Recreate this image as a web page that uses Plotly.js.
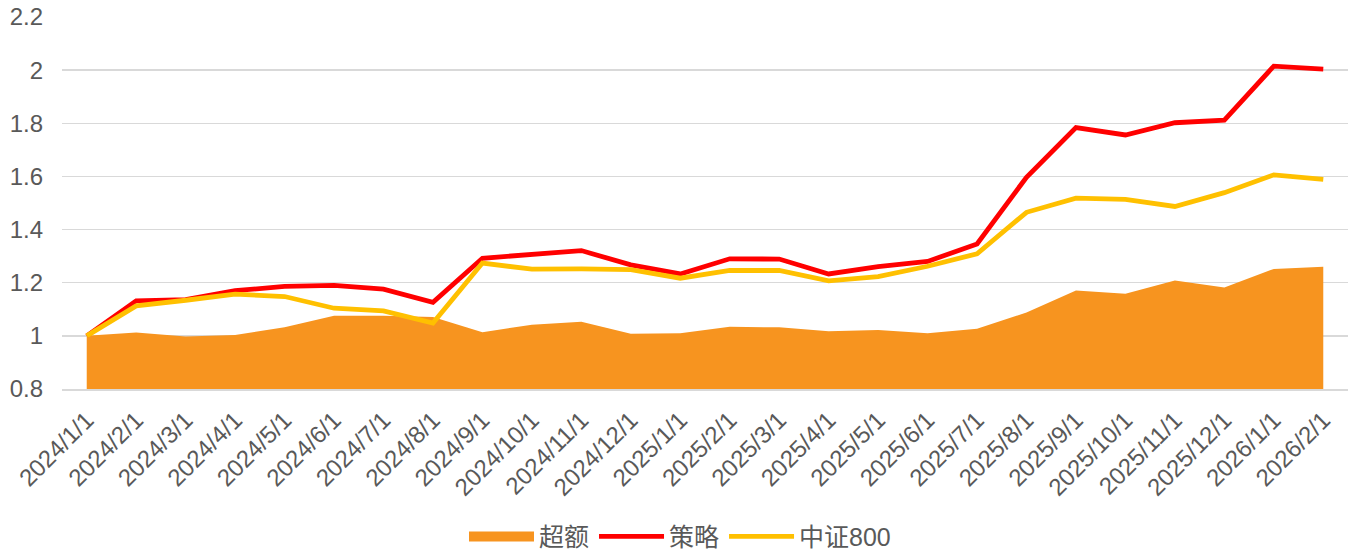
<!DOCTYPE html>
<html>
<head>
<meta charset="utf-8">
<script src="https://cdn.plot.ly/plotly-3.0.1.min.js"></script>
<style>html,body{margin:0;padding:0;background:#fff;}#chart{width:1360px;height:551px;}</style>
</head>
<body>
<div id="chart"></div>
<script>
const dates = ["2024/1/1","2024/2/1","2024/3/1","2024/4/1","2024/5/1","2024/6/1","2024/7/1","2024/8/1","2024/9/1","2024/10/1","2024/11/1","2024/12/1","2025/1/1","2025/2/1","2025/3/1","2025/4/1","2025/5/1","2025/6/1","2025/7/1","2025/8/1","2025/9/1","2025/10/1","2025/11/1","2025/12/1","2026/1/1","2026/2/1"];
const excess = [1.000,1.013,0.998,1.003,1.032,1.076,1.076,1.071,1.014,1.042,1.053,1.008,1.010,1.034,1.032,1.017,1.022,1.010,1.027,1.088,1.171,1.158,1.208,1.182,1.252,1.260];
const strategy = [1.000,1.132,1.136,1.170,1.186,1.190,1.176,1.126,1.292,1.305,1.321,1.267,1.233,1.290,1.289,1.233,1.261,1.280,1.346,1.597,1.784,1.756,1.802,1.812,2.015,2.004];
const csi800 = [1.000,1.113,1.134,1.157,1.148,1.104,1.094,1.048,1.274,1.251,1.252,1.249,1.217,1.246,1.246,1.207,1.223,1.262,1.309,1.465,1.518,1.514,1.487,1.539,1.606,1.589];
const names = ["超额","策略","中证800"];

const font = "Liberation Sans, Arial, Noto Sans CJK SC, sans-serif";
const orange = "#F7941F";
const traces = [
  {x: dates, y: excess, name: names[0], type: "scatter", mode: "none", fill: "tozeroy", fillcolor: orange, showlegend: false, legendgroup: "ex"},
  {x: [null], y: [null], name: names[0], type: "scatter", mode: "lines", line: {color: orange, width: 14}, legendgroup: "ex", showlegend: true},
  {x: dates, y: strategy, name: names[1], type: "scatter", mode: "lines", line: {color: "#FF0000", width: 4.8}},
  {x: dates, y: csi800, name: names[2], type: "scatter", mode: "lines", line: {color: "#FFC000", width: 4.8}}
];
const layout = {
  width: 1360, height: 551,
  margin: {l: 62, r: 12, t: 17, b: 162},
  paper_bgcolor: "#fff", plot_bgcolor: "#fff",
  font: {family: font, size: 24, color: "#595959"},
  showlegend: true,
  legend: {orientation: "h", x: 0.5, xanchor: "center", xref: "container", y: 0.026, yanchor: "middle", yref: "container", font: {size: 25, color: "#595959"}, itemwidth: 65, traceorder: "normal"},
  hovermode: false,
  xaxis: {type: "category", range: [-0.5, 25.5], tickangle: -45, automargin: false, showgrid: false, zeroline: false, showline: true, linecolor: "#D9D9D9", linewidth: 1.5, ticks: "", ticklabelstandoff: 6, tickfont: {size: 24, color: "#595959"}},
  yaxis: {range: [0.8, 2.2], dtick: 0.2, tick0: 0.8, automargin: false, showgrid: true, gridcolor: "#D9D9D9", gridwidth: 1.5, zeroline: false, showline: false, ticks: "", ticklabelstandoff: 18, tickfont: {size: 24, color: "#595959"}}
};
Plotly.newPlot("chart", traces, layout, {staticPlot: true, displayModeBar: false});
</script>
</body>
</html>
